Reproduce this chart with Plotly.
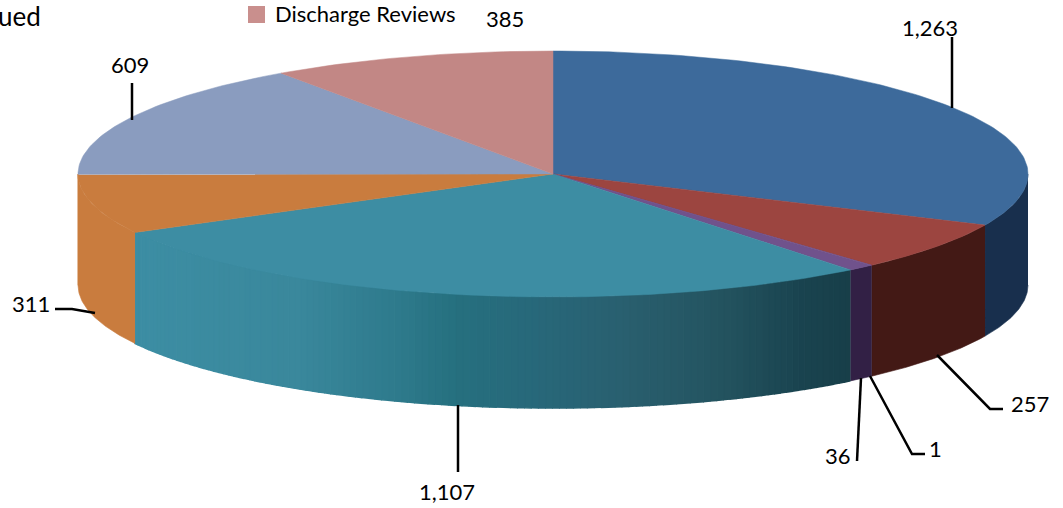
import numpy as np
import plotly.graph_objects as go

# Data
slice_names = ["Series A", "Series B", "Series C", "Series D", "Series E", "Series F", "Series G", "Discharge Reviews"]
slice_values = [1263, 257, 1, 36, 1107, 311, 609, 385]
slice_labels = ["1,263", "257", "1", "36", "1,107", "311", "609", "385"]
top_colors = ["#3D6A9B", "#9C4540", "#70528C", "#70528C", "#3D8DA3", "#C97C3E", "#8A9CBF", "#C28785"]
wall_colors = ["#182F4D", "#431915", "#322045", "#322045", None, "#C97C3E", "#C97C3E", None]

# Plot geometry of the tilted disc
CX, CY, RX, RY, DEPTH = 553, 174, 475, 123, 111
W, H = 1063, 508

# Teal wall shading, by pixel column
shade_x = [135, 300, 400, 458, 540, 620, 720, 800, 860]
shade_r = [61, 58, 46, 38, 40, 42, 36, 26, 24]
shade_g = [142, 136, 122, 112, 104, 96, 84, 68, 62]
shade_b = [164, 156, 140, 127, 122, 112, 96, 80, 72]

# Leader lines and value labels (pixel positions on the canvas)
leader_x = [[952, 952], [937, 990, 1003], [870, 912, 925], [861, 857], [458, 458], [55, 72, 95], [132, 132]]
leader_y = [[108, 37], [355, 409, 409], [376, 454, 454], [378, 461], [405, 472], [309, 309, 313], [120, 83]]
label_x = [930, 1030, 935, 838, 447, 31, 130, 505]
label_y = [27, 403, 448, 455, 491, 303, 64, 18]

total = sum(slice_values)
edges = np.cumsum([0] + slice_values) / total * 2 * np.pi


def px(t):
    return CX + RX * np.sin(t)


def py(t):
    return CY - RY * np.cos(t)


def poly(xs, ys, color, lw=0.0):
    return go.Scatter(x=xs, y=ys, mode="lines", fill="toself", fillcolor=color,
                      line=dict(color=color, width=lw), hoverinfo="skip", showlegend=False)


fig = go.Figure()

# Side walls (only the front half of the rim shows)
for i in range(len(slice_values)):
    a, b = max(edges[i], np.pi / 2), min(edges[i + 1], 1.5 * np.pi)
    if a >= b:
        continue
    if wall_colors[i] is not None:
        t = np.linspace(a, b, 60)
        fig.add_trace(poly(np.r_[px(t), px(t[::-1])], np.r_[py(t), py(t[::-1]) + DEPTH], wall_colors[i], 0.6))
    else:
        steps = np.linspace(a, b, 120)
        for t0, t1 in zip(steps[:-1], steps[1:]):
            t = np.array([t0, t1])
            xm = px((t0 + t1) / 2)
            c = "rgb(%d,%d,%d)" % (np.interp(xm, shade_x, shade_r), np.interp(xm, shade_x, shade_g), np.interp(xm, shade_x, shade_b))
            fig.add_trace(poly(np.r_[px(t), px(t[::-1])], np.r_[py(t), py(t[::-1]) + DEPTH], c, 1.5))

# Top face
for i in range(len(slice_values)):
    n = max(4, int((edges[i + 1] - edges[i]) * 60))
    t = np.linspace(edges[i], edges[i + 1], n)
    fig.add_trace(poly(np.r_[CX, px(t), CX], np.r_[CY, py(t), CY], top_colors[i], 0.5))

# Leader lines
for xs, ys in zip(leader_x, leader_y):
    fig.add_trace(go.Scatter(x=xs, y=ys, mode="lines", line=dict(color="#000000", width=2.5),
                             hoverinfo="skip", showlegend=False))

# Legend swatch
fig.add_trace(go.Scatter(x=[256.5], y=[14.5], mode="markers", marker=dict(symbol="square", size=17, color="#C98F8D"),
                         hoverinfo="skip", showlegend=False))

FONT = "Lato, 'Open Sans', sans-serif"
ann = [dict(x=x, y=y, text=s, xref="x", yref="y", showarrow=False, xanchor="center", yanchor="middle",
            font=dict(family=FONT, size=22, color="#000000"))
       for x, y, s in zip(label_x, label_y, slice_labels)]
ann.append(dict(x=273, y=13, text=slice_names[-1], xref="x", yref="y", showarrow=False, xanchor="left", yanchor="middle",
                font=dict(family=FONT, size=22, color="#000000")))
ann.append(dict(x=43, y=16, text="ued", xref="x", yref="y", showarrow=False, xanchor="right", yanchor="middle",
                font=dict(family=FONT, size=26, color="#000000")))

fig.update_layout(
    width=W, height=H, margin=dict(l=0, r=0, t=0, b=0),
    paper_bgcolor="#FFFFFF", plot_bgcolor="#FFFFFF", annotations=ann, showlegend=False,
    xaxis=dict(range=[0, W], visible=False, fixedrange=True),
    yaxis=dict(range=[H, 0], visible=False, fixedrange=True),
)
fig.write_html("out.html", config=dict(displayModeBar=False),
               post_script="document.body.style.margin='0';document.body.style.overflow='hidden';")
